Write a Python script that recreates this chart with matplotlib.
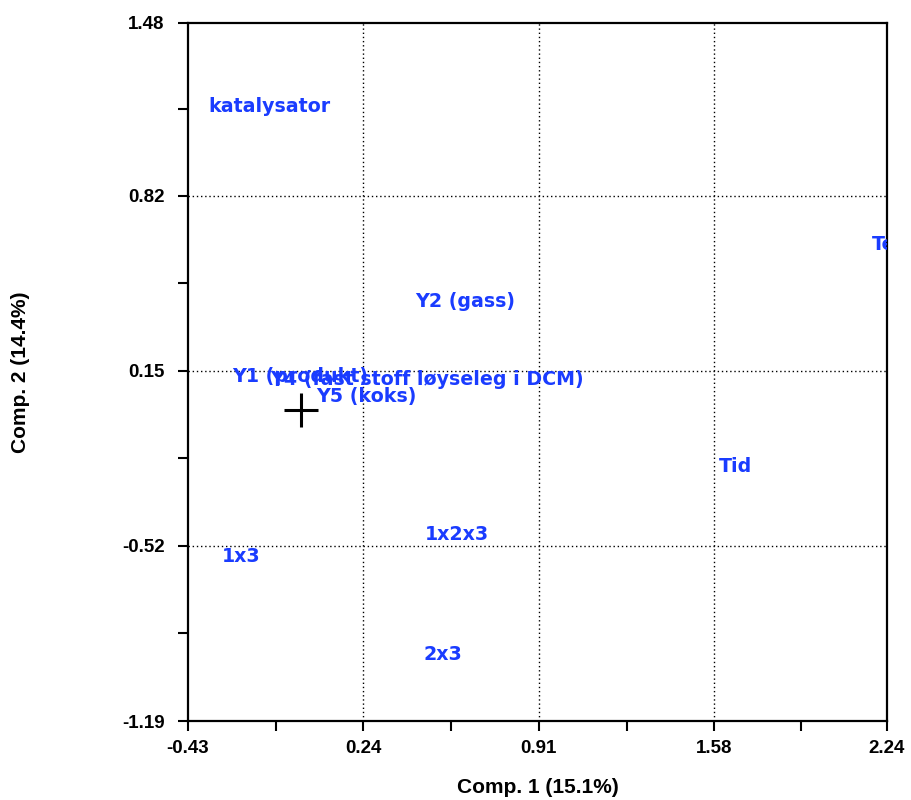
import matplotlib
matplotlib.use("Agg")
import matplotlib.pyplot as plt
from matplotlib.ticker import FixedLocator

# Data
labels = ["katalysator", "Temp", "Y2 (gass)", "Y1 (produkt)",
          "Y4 (fast stoff løyseleg i DCM)", "Y5 (koks)", "Tid",
          "1x2x3", "1x3", "2x3"]
xs = [-0.354, 2.183, 0.437, -0.262, -0.117, 0.059, 1.598, 0.475, -0.30, 0.468]
ys = [1.159, 0.631, 0.413, 0.126, 0.118, 0.053, -0.215, -0.475, -0.559, -0.937]
origin = (0.0, 0.0)
xticks = [-0.43, 0.24, 0.91, 1.58, 2.24]
yticks = [-1.19, -0.52, 0.15, 0.82, 1.48]
xlabel = "Comp. 1 (15.1%)"
ylabel = "Comp. 2 (14.4%)"

fig = plt.figure(figsize=(9.11, 8.0), dpi=100)
ax = fig.add_axes([188/911, 1-721/800, 699/911, 698/800])
ax.set_xlim(xticks[0], xticks[-1])
ax.set_ylim(yticks[0], yticks[-1])

blue = "#1a3cff"
for lab, x, y in zip(labels, xs, ys):
    ax.text(x, y, lab, color=blue, fontsize=13.7, fontweight="bold",
            family=["DejaVu Sans"], ha="left", va="center", clip_on=True)

ax.plot([origin[0]], [origin[1]], marker="+", color="black", markersize=25,
        markeredgewidth=2.2, linestyle="none")

ax.xaxis.set_major_locator(FixedLocator(xticks))
ax.yaxis.set_major_locator(FixedLocator(yticks))
xm = [(a + b) / 2 for a, b in zip(xticks[:-1], xticks[1:])]
ym = [(a + b) / 2 for a, b in zip(yticks[:-1], yticks[1:])]
ax.xaxis.set_minor_locator(FixedLocator(xm))
ax.yaxis.set_minor_locator(FixedLocator(ym))
ax.set_xticklabels([f"{v:.2f}" for v in xticks])
ax.set_yticklabels([f"{v:.2f}" for v in yticks])
ax.tick_params(which="both", direction="out", length=7, width=1.5, color="black")
ax.tick_params(axis="x", which="major", labelsize=13.5, pad=7)
ax.tick_params(axis="y", which="major", labelsize=13.5, pad=10)
for lab in ax.get_xticklabels() + ax.get_yticklabels():
    lab.set_fontweight("bold")
    lab.set_family(["Liberation Sans", "DejaVu Sans"])

for v in xticks[1:-1]:
    ax.axvline(v, color="black", linestyle=(0, (1, 2)), linewidth=1)
for v in yticks[1:-1]:
    ax.axhline(v, color="black", linestyle=(0, (1, 2)), linewidth=1)

for s in ax.spines.values():
    s.set_linewidth(1.6)

ax.set_xlabel(xlabel, fontsize=15, fontweight="bold",
              family=["Liberation Sans Narrow", "Liberation Sans", "DejaVu Sans"], labelpad=15)
ax.set_ylabel(ylabel, fontsize=15, fontweight="bold",
              family=["Liberation Sans Narrow", "Liberation Sans", "DejaVu Sans"], labelpad=66)

fig.savefig("out.png", dpi=100)
